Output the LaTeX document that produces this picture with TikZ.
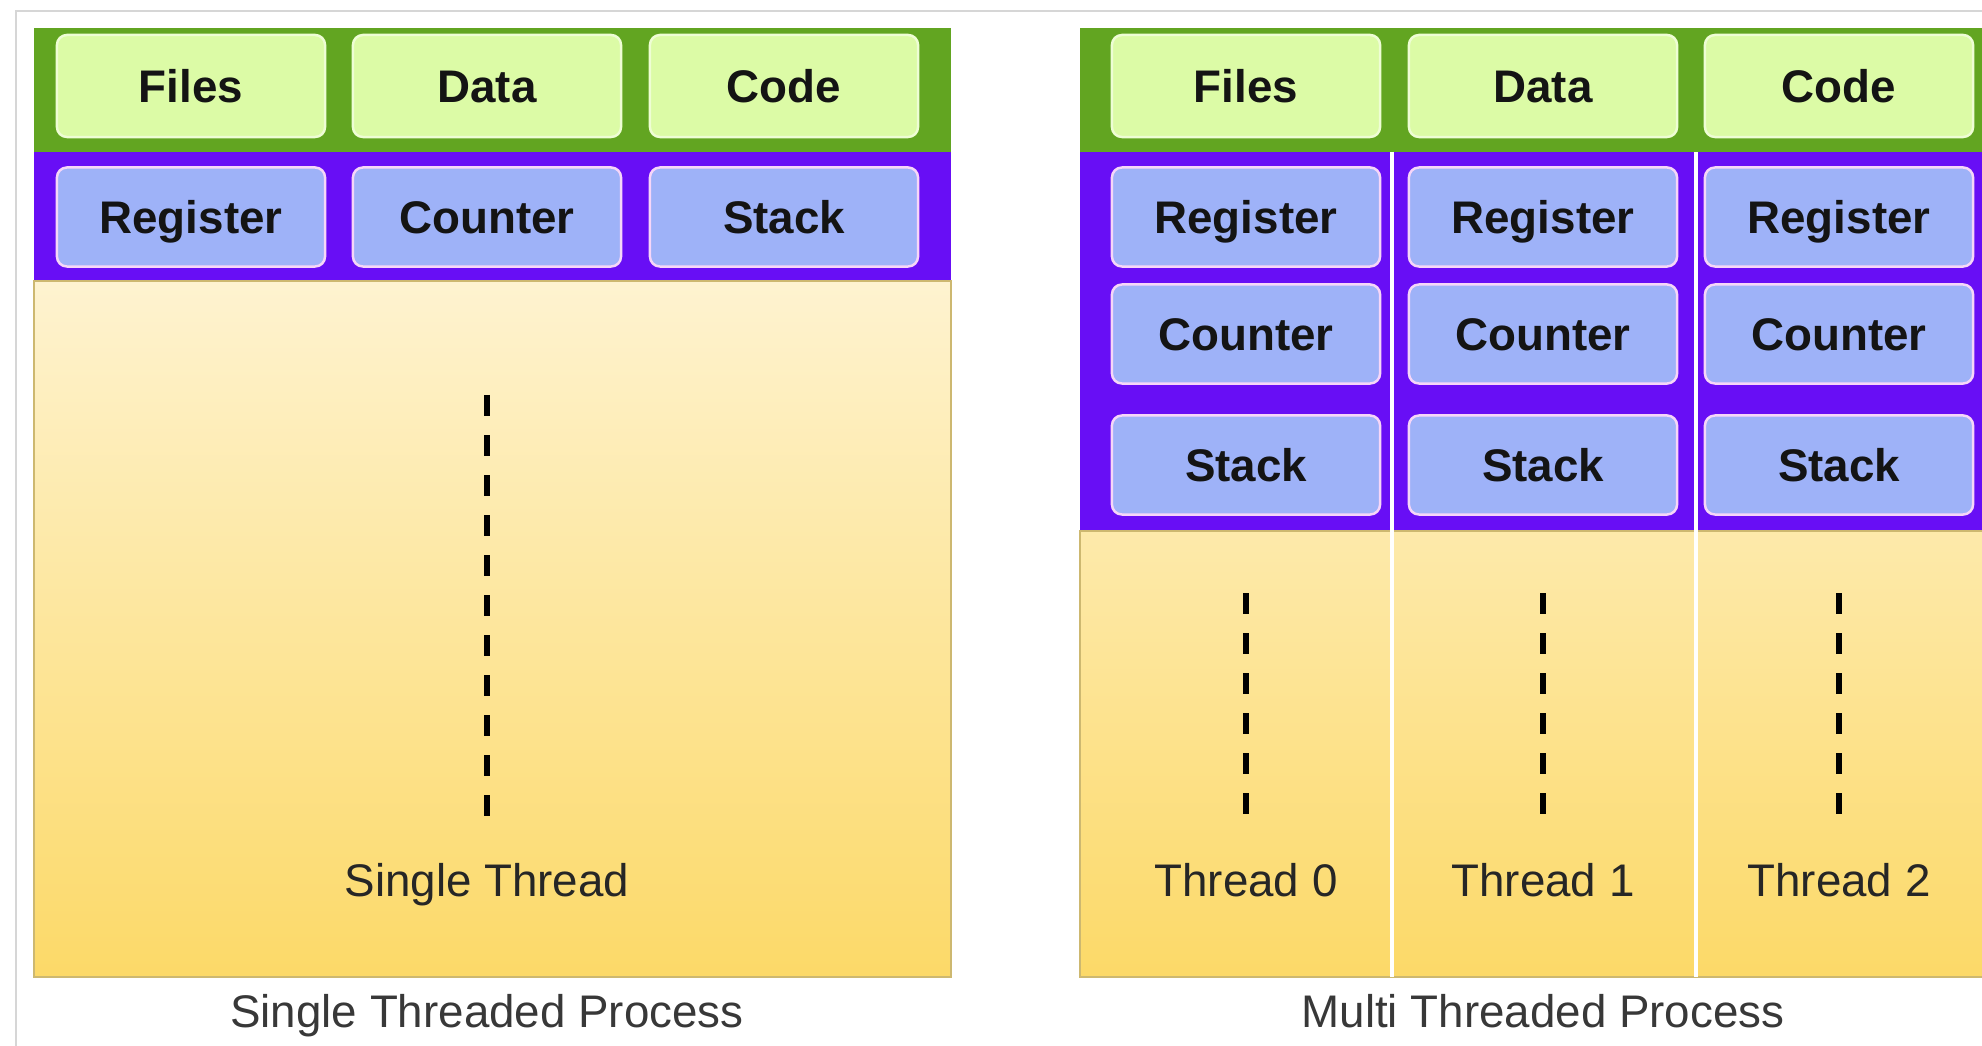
\documentclass[tikz,border=0pt]{standalone}
\usepackage{fontspec}
\setmainfont{Liberation Sans}

\definecolor{bandgreen}{RGB}{98,165,33}
\definecolor{bandpurple}{RGB}{104,14,245}
\definecolor{boxgreen}{RGB}{220,251,166}
\definecolor{rimgreen}{RGB}{238,253,212}
\definecolor{boxblue}{RGB}{158,178,248}
\definecolor{rimblue}{RGB}{246,214,248}
\definecolor{paletop}{RGB}{254,243,208}
\definecolor{palebot}{RGB}{252,217,104}
\definecolor{paleedge}{RGB}{205,184,112}
\definecolor{framegray}{RGB}{214,214,214}

\begin{document}
\begin{tikzpicture}[x=0.01cm, y=-0.01cm,
  membox/.style={rectangle, rounded corners=0.1cm, draw=rimgreen, fill=boxgreen,
    line width=0.7pt, minimum width=2.68cm, minimum height=1.02cm, inner sep=0pt,
    text height=0.33cm, text depth=0pt, text=black!92,
    font=\fontsize{13}{15}\selectfont\bfseries},
  regbox/.style={membox, draw=rimblue, fill=boxblue, minimum height=0.99cm},
  threadline/.style={line width=1.5pt, dash pattern=on 0.21cm off 0.19cm},
  thlabel/.style={text height=0.33cm, text depth=0pt, inner sep=0pt, text=black!85,
    font=\fontsize{13}{15}\selectfont},
  caption/.style={thlabel, text=black!78}]
  \useasboundingbox (0,0) rectangle (1982,1046);

  % outer frame
  \draw[framegray, line width=0.6pt] (16,1046) -- (16,11) -- (1982,11);

  % single threaded process
  \fill[bandgreen] (34,28) rectangle (951,152);
  \fill[bandpurple] (34,152) rectangle (951,281);
  \shadedraw[draw=paleedge, line width=0.5pt, top color=paletop, bottom color=palebot]
    (34,281) rectangle (951,977);

  \node[membox] (files) at (191,86) {Files};
  \node[membox] (data) at (487,86) {Data};
  \node[membox] (code) at (784,86) {Code};
  \node[regbox] (register) at (191,217) {Register};
  \node[regbox] (counter) at (487,217) {Counter};
  \node[regbox] (stack) at (784,217) {Stack};

  \draw[threadline] (487,395) -- (487,816);
  \node[thlabel] (single) at (487,880) {Single Thread};
  \node[caption] (singlecap) at (487,1011) {Single Threaded Process};

  % multi threaded process
  \fill[bandgreen] (1080,28) rectangle (1982,152);
  \fill[bandpurple] (1080,152) rectangle (1982,531);
  \shadedraw[draw=paleedge, line width=0.5pt, top color=palebot!36!paletop, bottom color=palebot]
    (1080,531) rectangle (1990,977);
  \draw[white, line width=1.2pt] (1392,152) -- (1392,977);
  \draw[white, line width=1.2pt] (1696,152) -- (1696,977);

  \node[membox] (mfiles) at (1246,86) {Files};
  \node[membox] (mdata) at (1543,86) {Data};
  \node[membox] (mcode) at (1839,86) {Code};

  \foreach \i/\cx in {0/1246, 1/1543, 2/1839} {
    \node[regbox] (register\i) at (\cx,217) {Register};
    \node[regbox] (counter\i) at (\cx,334) {Counter};
    \node[regbox] (stack\i) at (\cx,465) {Stack};
    \draw[threadline] (\cx,593) -- (\cx,814);
    \node[thlabel] (thread\i) at (\cx,880) {Thread \i};
  }
  \node[caption] (multicap) at (1543,1011) {Multi Threaded Process};
\end{tikzpicture}
\end{document}
